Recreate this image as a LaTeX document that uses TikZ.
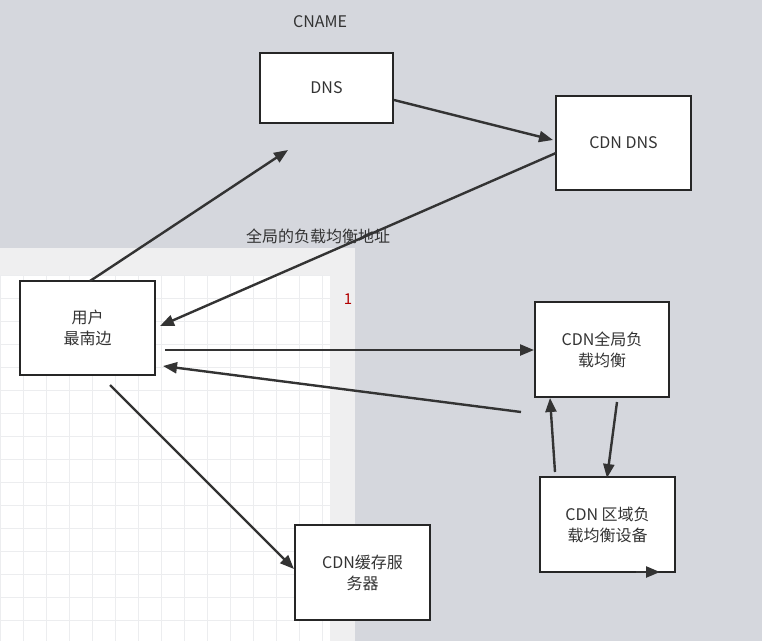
\documentclass[tikz,border=0pt]{standalone}
\usepackage{fontspec}
\setmainfont{Noto Sans CJK SC}
\usetikzlibrary{arrows.meta}
\definecolor{bg}{HTML}{D5D7DD}
\definecolor{panel}{HTML}{EFEFF0}
\definecolor{gridc}{HTML}{ECEDEF}
\definecolor{txt}{HTML}{333333}
\begin{document}
\begin{tikzpicture}[x=1pt,y=-1pt,
  box/.style={draw=black!85,line width=2.2pt,fill=white,align=center,font=\fontsize{16}{21}\selectfont,text=txt,inner sep=0pt},
  arr/.style={draw=black!80,line width=2.4pt,-{Triangle[length=14pt,width=11pt]}},
  lbl/.style={font=\fontsize{16}{19}\selectfont,text=txt}]
\fill[bg] (0,0) rectangle (762,641);
\useasboundingbox (0,0) rectangle (762,641);
\fill[panel] (0,248) rectangle (355,641);
\fill[white] (0,275) rectangle (330,641);
\begin{scope}
\clip (0,275) rectangle (330,641);
\foreach \i in {0,...,15} {\draw[gridc,line width=0.6pt] (\i*23,275) -- (\i*23,641);}
\foreach \j in {0,...,16} {\draw[gridc,line width=0.6pt] (0,275+\j*23) -- (330,275+\j*23);}
\end{scope}
\node[box,minimum width=133pt,minimum height=70pt] (dns) at (326.5,88) {DNS};
\node[box,minimum width=135pt,minimum height=94pt] (cdns) at (623.5,143) {CDN DNS};
\node[box,minimum width=135pt,minimum height=94pt] (user) at (87.5,328) {用户\\最南边};
\node[box,minimum width=134pt,minimum height=95pt] (glb) at (602,349.5) {CDN全局负\\载均衡};
\node[box,minimum width=135pt,minimum height=95pt] (reg) at (607.5,524.5) {CDN 区域负\\载均衡设备};
\node[box,minimum width=135pt,minimum height=95pt] (cache) at (362.5,572.5) {CDN缓存服\\务器};
\node[lbl] (cname) at (320,22) {CNAME};
\node[lbl] (gaddr) at (318,236) {全局的负载均衡地址};
\node[font=\fontsize{15}{17}\selectfont,text=red!70!black] (one) at (348,299) {1};
\coordinate (u1) at (90,281); \coordinate (d1) at (288,150);
\draw[arr] (u1) -- (d1);
\coordinate (d2) at (394,100); \coordinate (c2) at (553,140);
\draw[arr] (d2) -- (c2);
\coordinate (c3) at (556,153); \coordinate (u3) at (160,326);
\draw[arr] (c3) -- (u3);
\coordinate (u4) at (165,350); \coordinate (g4) at (534,350);
\draw[arr] (u4) -- (g4);
\coordinate (g5) at (521,412); \coordinate (u5) at (163,366);
\draw[arr] (g5) -- (u5);
\coordinate (r6) at (555,472); \coordinate (g6) at (550,398);
\draw[arr] (r6) -- (g6);
\coordinate (g7) at (617,402); \coordinate (r7) at (607,478);
\draw[arr] (g7) -- (r7);
\coordinate (u8) at (110,385); \coordinate (k8) at (294,569);
\draw[arr] (u8) -- (k8);
\coordinate (r9) at (636,572); \coordinate (r10) at (660,572);
\draw[arr] (r9) -- (r10);
\end{tikzpicture}
\end{document}
